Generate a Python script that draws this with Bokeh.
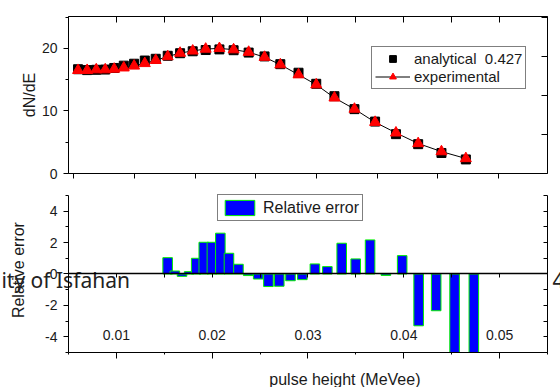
import math
from bokeh.plotting import figure
from bokeh.models import LinearAxis, Range1d, SingleIntervalTicker, Legend, LegendItem
from bokeh.core.properties import value
from bokeh.layouts import column
from bokeh.embed import file_html
from bokeh.resources import INLINE

# ---- data ----
pulse_height = [0.01535, 0.01610, 0.01685, 0.01759, 0.01833, 0.01912, 0.01997, 0.02085, 0.02175,
                0.02274, 0.02376, 0.02480, 0.02587, 0.02700, 0.02817, 0.02941, 0.03072, 0.03202,
                0.03352, 0.03498, 0.03648, 0.03813, 0.03983, 0.04155, 0.04338, 0.04530, 0.04731]
experimental = [16.5, 16.5, 16.6, 16.6, 16.7, 16.9, 17.2, 17.6, 18.1, 18.7, 19.25, 19.6, 19.9, 20.0,
                19.8, 19.4, 18.6, 17.4, 15.8, 14.2, 12.1, 10.3, 8.2, 6.5, 4.8, 3.5, 2.4]
analytical = [16.67, 16.53, 16.58, 16.62, 16.87, 17.24, 17.55, 18.06, 18.34, 18.82, 19.23, 19.54,
              19.74, 19.84, 19.71, 19.33, 18.72, 17.48, 16.11, 14.34, 12.36, 10.29, 8.30, 6.29,
              4.69, 3.28, 2.25]
relative_error = [1.04, 0.19, -0.15, 0.15, 1.00, 2.02, 2.02, 2.60, 1.32, 0.62, -0.10, -0.32, -0.80,
                  -0.78, -0.43, -0.36, 0.64, 0.47, 1.96, 0.96, 2.17, -0.09, 1.17, -3.30, -2.34,
                  -5.0, -5.0]
dnde_tick_values = [0, 10, 20]
dnde_tick_labels = ["0", "10", "20"]
err_tick_values = [-4, -2, 0, 2, 4]
err_tick_labels = ["-4", "-2", "0", "2", "4"]
x_tick_values = [0.01, 0.02, 0.03, 0.04, 0.05]
x_tick_labels = ["0.01", "0.02", "0.03", "0.04", "0.05"]
legend_labels = ["analytical  0.427", "experimental", "Relative error"]
y_title_top = "dN/dE"
y_title_bottom = "Relative error"
x_title = "pulse height (MeVee)"
stray_texts = ["ity of Isfahan", "4"]

FONT = "Liberation Sans"
TXT = "#1a1a1a"


def style_axis(ax, tick_in=0, minor_in=0):
    # ticks point "in" from the right / above panels, so the axes take no border space
    ax.axis_line_color = "black"
    ax.axis_line_width = 1
    ax.major_tick_line_color = "black"
    ax.minor_tick_line_color = "black"
    ax.major_tick_in = tick_in
    ax.major_tick_out = 0
    ax.minor_tick_in = minor_in
    ax.minor_tick_out = 0
    ax.major_label_text_font_size = "0px"
    ax.major_label_text_color = None
    ax.major_label_standoff = 0


def bare_figure(w, h, xr, yr):
    p = figure(frame_width=w, frame_height=h, x_range=xr, y_range=yr,
               output_backend="svg", toolbar_location=None,
               min_border_left=0, min_border_right=0, min_border_top=0, min_border_bottom=0,
               x_axis_location=None, y_axis_location=None,
               outline_line_color=None, background_fill_color="white", border_fill_color="white")
    p.xgrid.visible = False
    p.ygrid.visible = False
    return p


# ---------------- top panel ----------------
TX0, TX1 = 0.014563, 0.054039      # frame edges of the upper plot
TY0, TY1 = 0.0, 25.1
top = bare_figure(560, 184, Range1d(0.008959, 0.055110), Range1d(-1.7586, 27.658))
top.extra_x_ranges = {"ref": Range1d(-0.002098, 0.056357)}
top.extra_y_ranges = {"aux": Range1d(-0.2823, 4.4407)}

t_left = LinearAxis(fixed_location=TX0, bounds=(TY0, TY1),
                    ticker=SingleIntervalTicker(interval=10, num_minor_ticks=2))
style_axis(t_left, tick_in=5, minor_in=3)
top.add_layout(t_left, "right")

t_right = LinearAxis(fixed_location=TX1, y_range_name="aux", bounds=(0, 4.03),
                     ticker=SingleIntervalTicker(interval=1, num_minor_ticks=0))
style_axis(t_right, tick_in=6)
top.add_layout(t_right, "right")

t_bottom = LinearAxis(fixed_location=TY0, bounds=(TX0, TX1),
                      ticker=SingleIntervalTicker(interval=0.005, num_minor_ticks=0))
style_axis(t_bottom, tick_in=5)
top.add_layout(t_bottom, "above")

t_top = LinearAxis(fixed_location=TY1, x_range_name="ref", bounds=(0.005, 0.055),
                   ticker=SingleIntervalTicker(interval=0.005, num_minor_ticks=0))
style_axis(t_top, tick_in=6)
top.add_layout(t_top, "above")

r_sq = top.scatter(pulse_height, analytical, marker="square", size=9,
                   fill_color="black", line_color="black")
r_ln = top.line(pulse_height, experimental, line_color="black", line_width=1)
r_tr = top.scatter(pulse_height, experimental, marker="triangle", size=11,
                   fill_color="#ff0000", line_color="#ff0000")

top.text(x=[TX0 - 0.00091] * len(dnde_tick_values), y=dnde_tick_values, text=dnde_tick_labels,
         text_font=value(FONT), text_font_size="14px", text_color=TXT,
         text_align="right", text_baseline="middle")
top.text(x=[0.011349], y=[12.55], text=[y_title_top], angle=math.pi / 2,
         text_font=value(FONT), text_font_size="16px", text_color=TXT,
         text_align="center", text_baseline="middle")

leg_top = Legend(items=[LegendItem(label=legend_labels[0], renderers=[r_sq]),
                        LegendItem(label=legend_labels[1], renderers=[r_ln, r_tr])],
                 location=(371, 95), padding=3, spacing=1, margin=0,
                 glyph_width=35, glyph_height=17, label_height=17, label_standoff=4,
                 label_text_font=FONT, label_text_font_size="15px", label_text_color=TXT,
                 border_line_color="black", border_line_width=1,
                 background_fill_color="white", background_fill_alpha=1)
top.add_layout(leg_top)

# ---------------- bottom panel ----------------
X0, X1 = 0.005, 0.055
Y0, Y1 = -5.0, 5.0
bot = bare_figure(560, 203, Range1d(-0.002098, 0.056357), Range1d(-7.229, 5.70))

r_bar = bot.vbar(x=pulse_height, top=relative_error, bottom=0, width=0.001,
                 fill_color="#0000ff", line_color="#00ee00", line_width=1)

b_left = LinearAxis(fixed_location=X0, bounds=(Y0, Y1),
                    ticker=SingleIntervalTicker(interval=2, num_minor_ticks=2))
style_axis(b_left, tick_in=5, minor_in=3)
bot.add_layout(b_left, "right")

b_right = LinearAxis(fixed_location=X1, bounds=(Y0, Y1),
                     ticker=SingleIntervalTicker(interval=1, num_minor_ticks=0))
style_axis(b_right, tick_in=4)
bot.add_layout(b_right, "right")

b_bottom = LinearAxis(fixed_location=Y0, bounds=(X0, X1),
                      ticker=SingleIntervalTicker(interval=0.01, num_minor_ticks=2))
style_axis(b_bottom, tick_in=6, minor_in=2)
bot.add_layout(b_bottom, "above")

zero_axis = LinearAxis(fixed_location=0, bounds=(X0, X1),
                       ticker=SingleIntervalTicker(interval=0.005, num_minor_ticks=0))
style_axis(zero_axis, tick_in=4)
zero_axis.axis_line_width = 1.3
bot.add_layout(zero_axis, "above")

bot.text(x=[X0 - 0.00115] * len(err_tick_values), y=err_tick_values, text=err_tick_labels,
         text_font=value(FONT), text_font_size="14px", text_color=TXT,
         text_align="right", text_baseline="middle")
bot.text(x=x_tick_values, y=[-3.5] * len(x_tick_values), text=x_tick_labels,
         text_font=value(FONT), text_font_size="14px", text_color=TXT,
         text_align="center", text_baseline="top", y_offset=1)
bot.text(x=[-0.00017], y=[0.25], text=[y_title_bottom], angle=math.pi / 2,
         text_font=value(FONT), text_font_size="16px", text_color=TXT,
         text_align="center", text_baseline="middle")
bot.text(x=[0.03385], y=[-6.72], text=[x_title],
         text_font=value(FONT), text_font_size="16px", text_color=TXT,
         text_align="center", text_baseline="alphabetic")
bot.text(x=[-0.0020, 0.05552], y=[-0.414, -0.414], text=stray_texts,
         text_font=value("Noto Sans"), text_font_size="21px", text_color="#222222",
         text_align=["left", "left"], text_baseline="alphabetic")

leg_bot = Legend(items=[LegendItem(label=legend_labels[2], renderers=[r_bar])],
                 location=(217, 166), padding=3, spacing=0, margin=0,
                 glyph_width=37, glyph_height=19, label_height=19, label_standoff=5,
                 label_text_font=FONT, label_text_font_size="16px", label_text_color=TXT,
                 border_line_color="black", border_line_width=1,
                 background_fill_color="white", background_fill_alpha=1)
bot.add_layout(leg_bot)

layout = column(top, bot, spacing=0)
open("out.html", "w").write(file_html(layout, INLINE))
